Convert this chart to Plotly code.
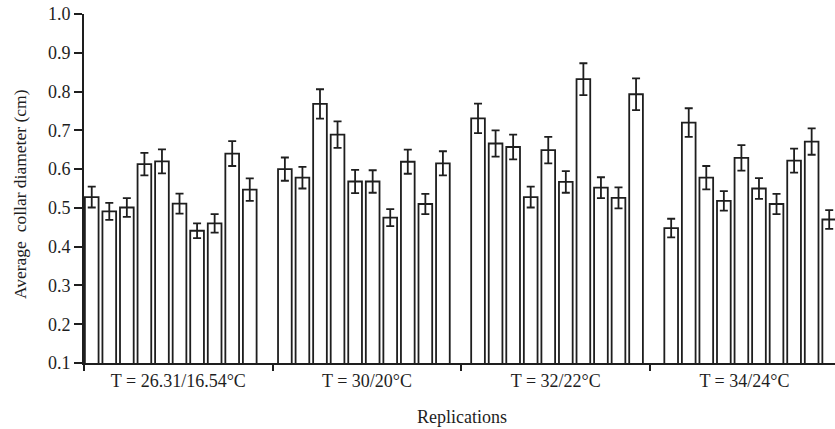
import plotly.graph_objects as go

groups = ["T = 26.31/16.54°C", "T = 30/20°C", "T = 32/22°C", "T = 34/24°C"]

g1 = [0.528, 0.491, 0.501, 0.613, 0.620, 0.511, 0.441, 0.460, 0.640, 0.547]
g2 = [0.600, 0.578, 0.768, 0.689, 0.568, 0.568, 0.475, 0.619, 0.510, 0.615]
g3 = [0.731, 0.666, 0.657, 0.528, 0.649, 0.567, 0.832, 0.552, 0.526, 0.793]
g4 = [0.448, 0.720, 0.578, 0.518, 0.629, 0.550, 0.510, 0.622, 0.671, 0.470]

e1 = [0.027, 0.022, 0.024, 0.029, 0.031, 0.026, 0.019, 0.024, 0.032, 0.029]
e2 = [0.030, 0.028, 0.038, 0.034, 0.030, 0.029, 0.022, 0.031, 0.026, 0.031]
e3 = [0.038, 0.034, 0.032, 0.027, 0.034, 0.028, 0.041, 0.027, 0.027, 0.041]
e4 = [0.024, 0.037, 0.030, 0.025, 0.033, 0.027, 0.026, 0.031, 0.034, 0.024]

values = [g1, g2, g3, g4]
errors = [e1, e2, e3, e4]

SLOTS = 11  # 10 replications + 1 empty gap per group
xs, ys, es = [], [], []
for gi, (vals, errs) in enumerate(zip(values, errors)):
    for i, (v, e) in enumerate(zip(vals, errs)):
        xs.append(gi * SLOTS + i)
        ys.append(v)
        es.append(e)

FONT = "Liberation Serif, Times New Roman, serif"
INK = "#1e1e1e"

fig = go.Figure()
fig.add_trace(go.Bar(
    x=xs, y=ys, width=0.78,
    marker=dict(color="white", line=dict(color=INK, width=1.8)),
    error_y=dict(type="data", array=es, visible=True, color=INK, thickness=1.8, width=4),
    showlegend=False,
))
# invisible trace carrying the group categories on the overlay axis
fig.add_trace(go.Scatter(x=groups, y=[None] * len(groups), xaxis="x2",
                         mode="markers", showlegend=False, hoverinfo="skip"))

fig.update_layout(
    width=835, height=429,
    margin=dict(l=84, r=0, t=14, b=66, pad=0),
    paper_bgcolor="white", plot_bgcolor="white",
    font=dict(family=FONT, size=18, color=INK),
    xaxis=dict(range=[-0.44, 42.33], showline=True, linecolor=INK, linewidth=2,
               showticklabels=False, ticks="", showgrid=False, zeroline=False,
               automargin=False),
    xaxis2=dict(type="category", overlaying="x", side="bottom", range=[-0.5, 3.48],
                tickson="boundaries", ticks="outside", ticklen=7, tickwidth=2,
                tickcolor=INK, showline=False, showgrid=False, automargin=False,
                ticklabelstandoff=5,
                tickfont=dict(family=FONT, size=18, color=INK)),
    yaxis=dict(range=[0.1, 1.0], tickvals=[0.1, 0.2, 0.3, 0.4, 0.5, 0.6, 0.7, 0.8, 0.9, 1.0],
               tickformat=".1f", showline=True, linecolor=INK, linewidth=2,
               ticks="outside", ticklen=8, tickwidth=2, tickcolor=INK,
               showgrid=False, zeroline=False, automargin=False, ticklabeloverflow="allow",
               tickfont=dict(family=FONT, size=18, color=INK)),
    annotations=[
        dict(text="Average  collar diameter (cm)", textangle=-90, xref="paper", yref="paper",
             x=-64 / 751, y=0.484, xanchor="center", yanchor="middle", showarrow=False,
             font=dict(family=FONT, size=17.5, color=INK)),
        dict(text="Replications", xref="paper", yref="paper", x=(462 - 84) / 751,
             y=-(417 - 362.7) / 348.7, xanchor="center", yanchor="middle", showarrow=False,
             font=dict(family=FONT, size=18, color=INK)),
    ],
)

fig.write_html("out.html", config={"displayModeBar": False},
               post_script="document.body.style.margin='0px';")
